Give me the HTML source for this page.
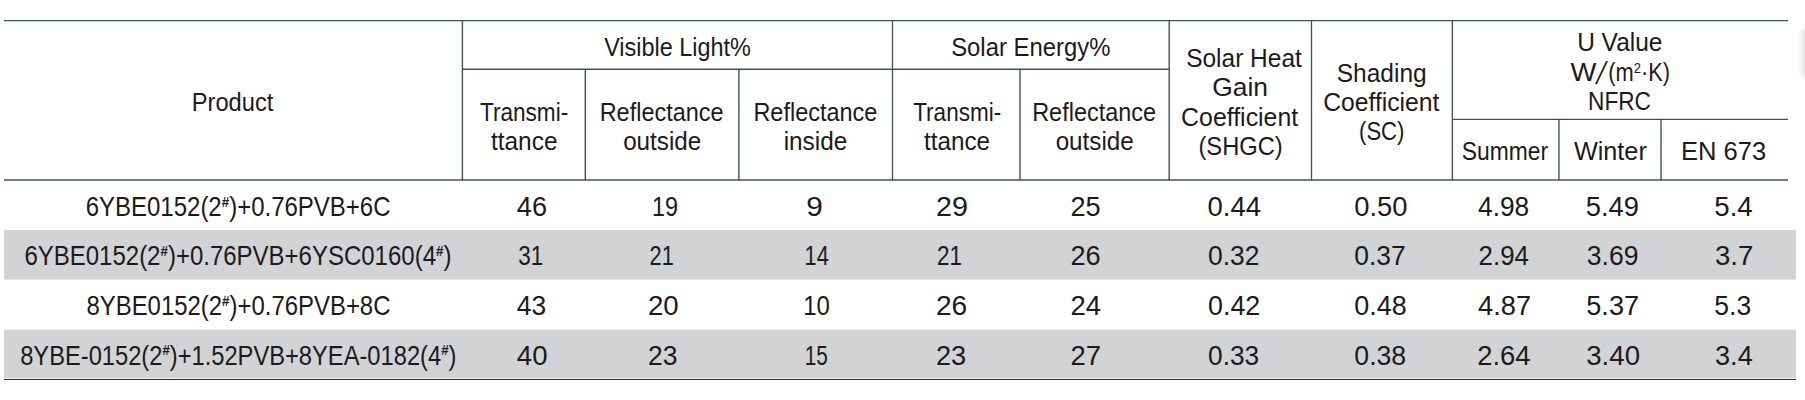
<!DOCTYPE html>
<html lang="en"><head><meta charset="utf-8"><title>Glass performance table</title>
<style>html,body{margin:0;padding:0;background:#fff;overflow:hidden}svg{display:block}</style></head>
<body>
<svg width="1805" height="400" viewBox="0 0 1805 400" font-family='"Liberation Sans", sans-serif' font-size="24.3" fill="#1c1a1c">
<defs><filter id="bl" x="-50%" y="-50%" width="200%" height="200%"><feGaussianBlur stdDeviation="2"/></filter></defs>
<rect x="1802" y="29" width="12" height="48" fill="#e0e0e0" filter="url(#bl)"/>
<rect x="4.1" y="230" width="1791.8" height="49.6" fill="#d2d3d5"/>
<rect x="4.1" y="329.7" width="1791.8" height="48.65" fill="#d2d3d5"/>
<g stroke="#3e545f" stroke-width="1.4" fill="none">
<line x1="4" y1="20.55" x2="1788" y2="20.55" stroke-width="1.25"/>
<line x1="462.4" y1="69.2" x2="1169.2" y2="69.2" stroke-width="1.4"/>
<line x1="1452.35" y1="119.4" x2="1788" y2="119.4" stroke-width="1.4"/>
<line x1="4" y1="180.05" x2="1788" y2="180.05" stroke-width="1.4"/>
<line x1="462.4" y1="20.2" x2="462.4" y2="180.6" stroke-width="1.4"/>
<line x1="585.3" y1="68.8" x2="585.3" y2="180.6" stroke-width="1.4"/>
<line x1="738.9" y1="68.8" x2="738.9" y2="180.6" stroke-width="1.4"/>
<line x1="892.5" y1="20.2" x2="892.5" y2="180.6" stroke-width="1.3"/>
<line x1="1020" y1="68.8" x2="1020" y2="180.6" stroke-width="1.4"/>
<line x1="1169.2" y1="20.2" x2="1169.2" y2="180.6" stroke-width="1.4"/>
<line x1="1311.5" y1="20.2" x2="1311.5" y2="180.6" stroke-width="1.3"/>
<line x1="1452.35" y1="20.2" x2="1452.35" y2="180.6" stroke-width="1.4"/>
<line x1="1558.95" y1="119" x2="1558.95" y2="180.6" stroke-width="1.4"/>
<line x1="1661" y1="119" x2="1661" y2="180.6" stroke-width="1.4"/>
</g>
<line x1="4" y1="379.45" x2="1796" y2="379.45" stroke="#15323f" stroke-width="1.15"/>
<text transform="translate(191.70 111.10) scale(0.9748 1.060)">Product</text>
<text transform="translate(604.16 56.10) scale(0.9649 1.060)">Visible Light%</text>
<text transform="translate(951.17 56.10) scale(0.9825 1.060)">Solar Energy%</text>
<text transform="translate(479.94 121.00) scale(0.9298 1.060)">Transmi-</text>
<text transform="translate(490.90 149.75) scale(1.0069 1.060)">ttance</text>
<text transform="translate(599.67 121.00) scale(0.9661 1.060)">Reflectance</text>
<text transform="translate(623.15 149.75) scale(0.9961 1.060)">outside</text>
<text transform="translate(753.42 121.00) scale(0.9661 1.060)">Reflectance</text>
<text transform="translate(783.64 149.75) scale(1.0033 1.060)">inside</text>
<text transform="translate(913.19 121.00) scale(0.9271 1.060)">Transmi-</text>
<text transform="translate(923.90 149.75) scale(0.9992 1.060)">ttance</text>
<text transform="translate(1032.17 121.00) scale(0.9661 1.060)">Reflectance</text>
<text transform="translate(1055.65 149.75) scale(0.9961 1.060)">outside</text>
<text transform="translate(1186.14 67.10) scale(1.0084 1.060)">Solar Heat</text>
<text transform="translate(1212.29 96.20) scale(1.0866 1.060)">Gain</text>
<text transform="translate(1181.12 126.00) scale(1.0239 1.060)">Coefficient</text>
<text transform="translate(1198.44 154.80) scale(0.9754 1.090)">(SHGC)</text>
<text transform="translate(1336.64 82.10) scale(1.0110 1.060)">Shading</text>
<text transform="translate(1323.13 110.80) scale(1.0173 1.060)">Coefficient</text>
<text transform="translate(1359.04 140.00) scale(0.9085 1.090)">(SC)</text>
<text transform="translate(1577.13 50.90) scale(1.0086 1.060)">U Value</text>
<text transform="translate(1570.42 81.00) scale(1.1289 1.060)">W</text>
<text transform="translate(1594.90 84.00) skewX(-15) scale(1 1.3)">/</text>
<text transform="translate(1608.25 81.00) scale(0.8989 1.060)">(m<tspan font-size="14.5" dy="-7.2">2</tspan><tspan dy="7.2">·K)</tspan></text>
<text transform="translate(1588.03 109.70) scale(0.9333 1.090)">NFRC</text>
<text transform="translate(1461.72 160.20) scale(0.9411 1.060)">Summer</text>
<text transform="translate(1573.89 160.20) scale(1.0388 1.060)">Winter</text>
<text transform="translate(1681.05 160.20) scale(1.0506 1.090)">EN 673</text>
<text transform="translate(85.67 216.00) scale(0.9876 1.100)">6YBE0152(2<tspan font-size="13.5" font-weight="bold" dy="-8.6">#</tspan><tspan dy="8.6">)+0.76PVB+6C</tspan></text>
<text transform="translate(516.84 216.00) scale(1.1157 1.100)">46</text>
<text transform="translate(651.96 216.00) scale(0.9667 1.100)">19</text>
<text transform="translate(806.37 216.00) scale(1.2227 1.100)">9</text>
<text transform="translate(935.92 216.00) scale(1.1816 1.100)">29</text>
<text transform="translate(1070.50 216.00) scale(1.1192 1.100)">25</text>
<text transform="translate(1207.52 216.00) scale(1.1308 1.100)">0.44</text>
<text transform="translate(1354.27 216.00) scale(1.1260 1.100)">0.50</text>
<text transform="translate(1478.11 216.00) scale(1.0809 1.100)">4.98</text>
<text transform="translate(1585.77 216.00) scale(1.1267 1.100)">5.49</text>
<text transform="translate(1714.26 216.00) scale(1.1391 1.100)">5.4</text>
<text transform="translate(24.42 265.20) scale(0.9877 1.100)">6YBE0152(2<tspan font-size="13.5" font-weight="bold" dy="-8.6">#</tspan><tspan dy="8.6">)+0.76PVB+6YSC0160(4</tspan><tspan font-size="13.5" font-weight="bold" dy="-8.6">#</tspan><tspan dy="8.6">)</tspan></text>
<text transform="translate(518.22 265.20) scale(0.9273 1.100)">31</text>
<text transform="translate(649.53 265.20) scale(0.8959 1.100)">21</text>
<text transform="translate(804.58 265.20) scale(0.8959 1.100)">14</text>
<text transform="translate(936.99 265.20) scale(0.9265 1.100)">21</text>
<text transform="translate(1070.50 265.20) scale(1.1192 1.100)">26</text>
<text transform="translate(1208.06 265.20) scale(1.0878 1.100)">0.32</text>
<text transform="translate(1354.31 265.20) scale(1.0878 1.100)">0.37</text>
<text transform="translate(1478.57 265.20) scale(1.0652 1.100)">2.94</text>
<text transform="translate(1586.81 265.20) scale(1.0933 1.100)">3.69</text>
<text transform="translate(1715.02 265.20) scale(1.1333 1.100)">3.7</text>
<text transform="translate(86.41 315.20) scale(0.9852 1.100)">8YBE0152(2<tspan font-size="13.5" font-weight="bold" dy="-8.6">#</tspan><tspan dy="8.6">)+0.76PVB+8C</tspan></text>
<text transform="translate(516.86 315.20) scale(1.0863 1.100)">43</text>
<text transform="translate(647.98 315.20) scale(1.1394 1.100)">20</text>
<text transform="translate(803.17 315.20) scale(0.9876 1.100)">10</text>
<text transform="translate(935.95 315.20) scale(1.1596 1.100)">26</text>
<text transform="translate(1070.49 315.20) scale(1.1280 1.100)">24</text>
<text transform="translate(1208.05 315.20) scale(1.1044 1.100)">0.42</text>
<text transform="translate(1354.29 315.20) scale(1.1094 1.100)">0.48</text>
<text transform="translate(1478.09 315.20) scale(1.1198 1.100)">4.87</text>
<text transform="translate(1586.28 315.20) scale(1.1156 1.100)">5.37</text>
<text transform="translate(1714.31 315.20) scale(1.0929 1.100)">5.3</text>
<text transform="translate(20.17 364.70) scale(0.9757 1.100)">8YBE-0152(2<tspan font-size="13.5" font-weight="bold" dy="-8.6">#</tspan><tspan dy="8.6">)+1.52PVB+8YEA-0182(4</tspan><tspan font-size="13.5" font-weight="bold" dy="-8.6">#</tspan><tspan dy="8.6">)</tspan></text>
<text transform="translate(516.83 364.70) scale(1.1353 1.100)">40</text>
<text transform="translate(648.04 364.70) scale(1.0889 1.100)">23</text>
<text transform="translate(804.66 364.70) scale(0.8536 1.100)">15</text>
<text transform="translate(936.00 364.70) scale(1.1192 1.100)">23</text>
<text transform="translate(1070.49 364.70) scale(1.1306 1.100)">27</text>
<text transform="translate(1208.07 364.70) scale(1.0818 1.100)">0.33</text>
<text transform="translate(1354.30 364.70) scale(1.0983 1.100)">0.38</text>
<text transform="translate(1477.24 364.70) scale(1.1260 1.100)">2.64</text>
<text transform="translate(1586.26 364.70) scale(1.1370 1.100)">3.40</text>
<text transform="translate(1715.03 364.70) scale(1.1156 1.100)">3.4</text>
</svg>
</body></html>
